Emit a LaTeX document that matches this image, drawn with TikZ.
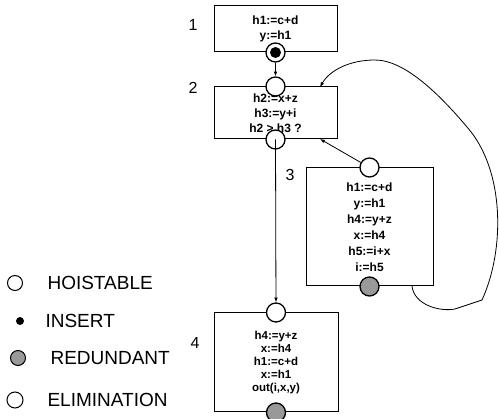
\documentclass[tikz,border=0pt]{standalone}
\usepackage{fontspec}
\setmainfont{Liberation Sans}
\usetikzlibrary{arrows.meta}

\begin{document}
\begin{tikzpicture}[x=1pt, y=-1pt, >={Latex[length=1.7mm, width=1.3mm]},
	block/.style={draw, line width=1pt, minimum width=123pt, align=center, inner sep=0pt, font=\fontsize{12}{15}\selectfont\bfseries},
	hoist/.style={circle, draw, fill=white, line width=1.3pt, minimum size=19pt, inner sep=0pt},
	insert/.style={hoist, path picture={\fill[black] (path picture bounding box.center) circle (5.5pt);}},
	redund/.style={hoist, fill=black!40},
	tag/.style={font=\fontsize{16}{16}\selectfont},
	legend/.style={anchor=west, font=\fontsize{19}{19}\selectfont}]
	\useasboundingbox (0,0) rectangle (499,419);
	% blocks
	\node[block, minimum height=46pt] (b1) at (275.5,29) {h1:=c+d\\y:=h1};
	\node[block, minimum height=52pt] (b2) at (275.5,113) {h2:=x+z\\h3:=y+i\\h2 > h3 ?};
	\node[block, minimum width=127pt, minimum height=118pt, font=\fontsize{12}{16}\selectfont\bfseries] (b3) at (369.5,227) {h1:=c+d\\y:=h1\\h4:=y+z\\x:=h4\\h5:=i+x\\i:=h5};
	\node[block, minimum width=124pt, minimum height=99pt, font=\fontsize{11.5}{13}\selectfont\bfseries] (b4) at (276,362.5) {h4:=y+z\\x:=h4\\h1:=c+d\\x:=h1\\out(i,x,y)};
	\node[tag] (n1) at (193,25) {1};
	\node[tag] (n2) at (193,88) {2};
	\node[tag] (n3) at (290,175) {3};
	\node[tag] (n4) at (195,343) {4};
	% circles on the blocks
	\node[insert] (i1) at (b1.south) {};
	\node[hoist] (h2) at (b2.north) {};
	\node[hoist] (e2) at (b2.south) {};
	\node[hoist] (h3) at (b3.north) {};
	\node[redund] (r3) at (b3.south) {};
	\node[hoist] (h4) at (b4.north) {};
	\node[redund] (r4) at (b4.south) {};
	% edges
	\coordinate (in2) at (320,139);
	\coordinate (out3) at (412,286);
	\coordinate (top2) at (320,87);
	\draw[->, line width=0.8pt] (i1) -- (h2);
	\draw[->, line width=0.8pt] (e2.center) -- (h4);
	\draw[->, line width=0.8pt] (h3) -- (in2);
	\draw[->, line width=0.8pt] (out3) .. controls (414,305) and (440,312) .. (455,309) -- (482,300)
		.. controls (505,250) and (505,170) .. (467,127)
		.. controls (440,95) and (405,60) .. (375,60)
		.. controls (350,60) and (330,70) .. (top2);
	% legend
	\node[hoist, minimum size=15pt, line width=1pt] (lh) at (15,283) {};
	\node[legend] (th) at (44,283) {HOISTABLE};
	\node[circle, fill, minimum size=8pt, inner sep=0pt] (li) at (20,321) {};
	\node[legend] (ti) at (42,321) {INSERT};
	\node[redund, minimum size=15pt, line width=1pt] (lr) at (18,358) {};
	\node[legend] (tr) at (47,358) {REDUNDANT};
	\node[hoist, minimum size=16pt, line width=1pt] (le) at (15,400) {};
	\node[legend] (te) at (44,400) {ELIMINATION};
\end{tikzpicture}
\end{document}
